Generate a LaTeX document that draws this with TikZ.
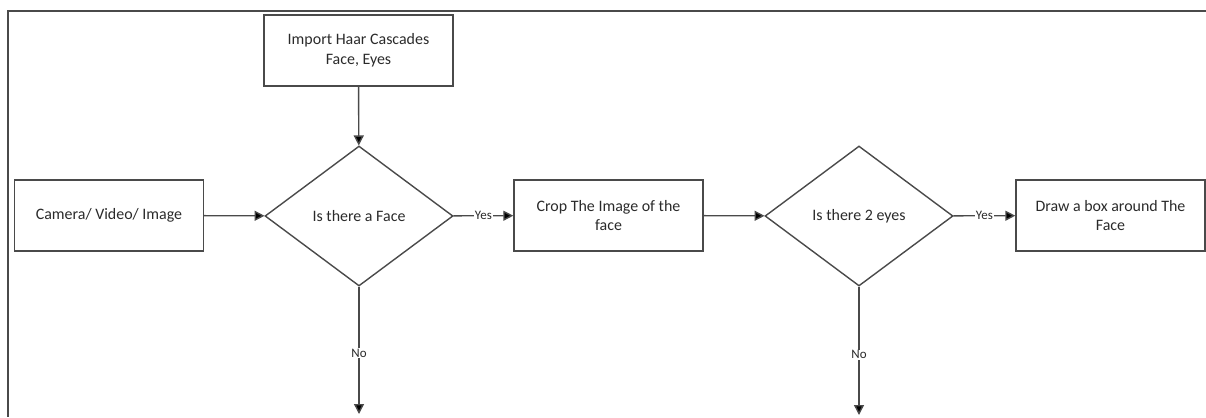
\documentclass[tikz,border=0pt]{standalone}
\usepackage{fontspec}
\setmainfont{Carlito}
\usetikzlibrary{shapes.geometric,arrows.meta}
\definecolor{edge}{HTML}{4A4A4A}
\definecolor{txt}{HTML}{2A2A2A}
\begin{document}
\begin{tikzpicture}[x=1bp,y=-1bp,
  every node/.style={text=txt,font=\fontsize{16}{20}\selectfont},
  procbox/.style={draw=edge,line width=1.4bp,minimum width=189bp,minimum height=71bp,inner sep=0pt,align=center},
  decision/.style={draw=edge,line width=1.4bp,diamond,minimum width=188bp,minimum height=140bp,inner sep=0pt,aspect=1.34,align=center},
  conn/.style={draw=edge,line width=1.4bp,-{Triangle[length=10bp,width=10bp,fill=black]}},
  lbl/.style={fill=white,inner sep=1bp,font=\fontsize{13}{15}\selectfont}]
\useasboundingbox (0,0) rectangle (1206,417);
\draw[edge,line width=1.5bp] (1206,11) -- (8,11) -- (8,417);
\node[procbox] (import) at (358.5,50.5) {Import Haar Cascades\\Face, Eyes};
\node[procbox] (camera) at (109,215.5) {Camera/ Video/ Image};
\node[decision] (face) at (359,216) {Is there a Face};
\node[procbox] (crop) at (608.5,215.5) {Crop The Image of the\\face};
\node[decision] (eyes) at (859,216) {Is there 2 eyes};
\node[procbox] (box) at (1110.5,215.5) {Draw a box around The\\Face};
\coordinate (no1) at (359,414);
\coordinate (no2) at (859,415);
\draw[conn] (import) -- (face);
\draw[conn] (camera) -- (face);
\draw[conn] (face) -- node[lbl]{Yes} (crop);
\draw[conn] (crop) -- (eyes);
\draw[conn] (eyes) -- node[lbl]{Yes} (box);
\draw[conn] (face) -- node[lbl,pos=0.52]{No} (no1);
\draw[conn] (eyes) -- node[lbl,pos=0.53]{No} (no2);
\end{tikzpicture}
\end{document}
